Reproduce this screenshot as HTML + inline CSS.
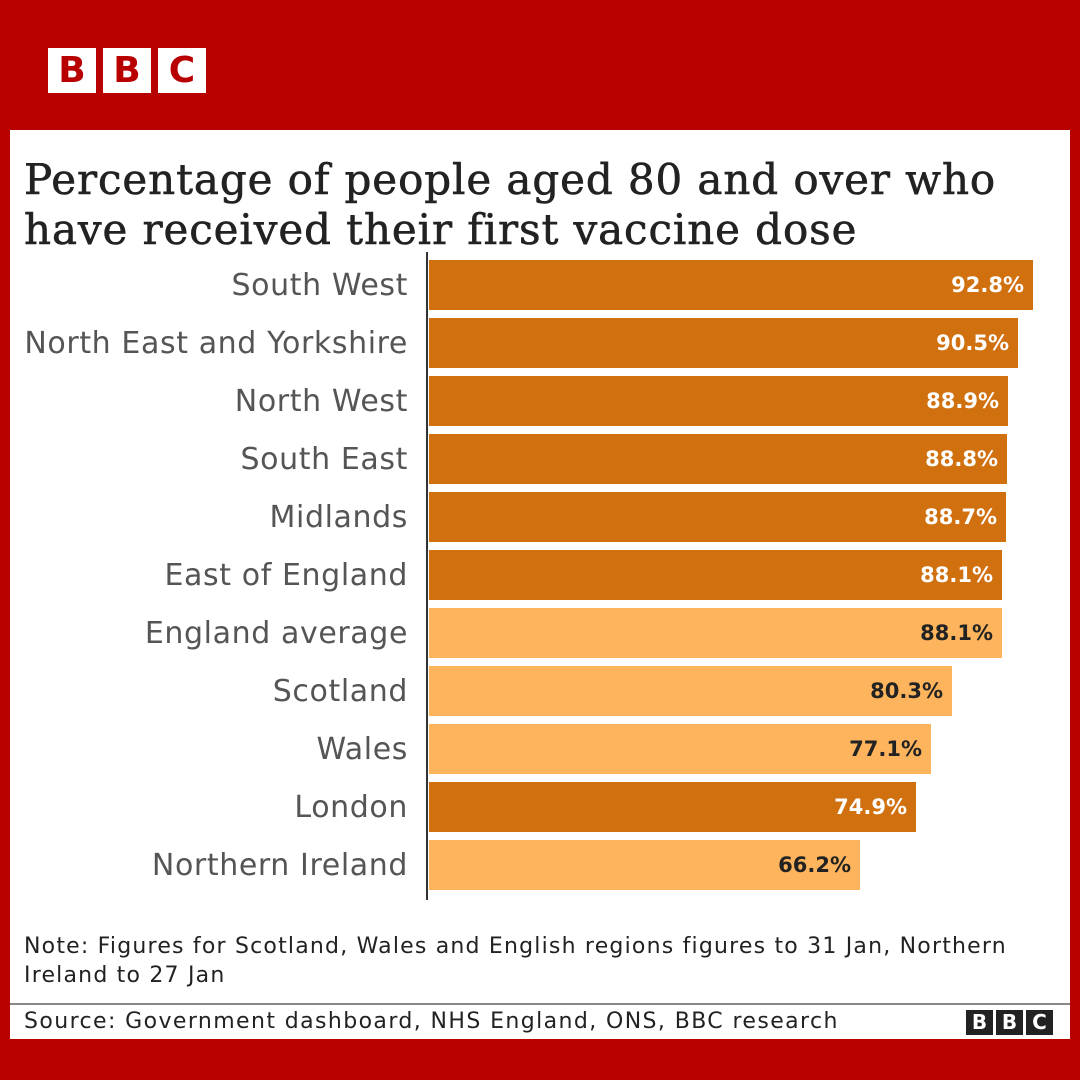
<!DOCTYPE html>
<html><head><meta charset="utf-8"><style>
body{margin:0;width:1080px;height:1080px;background:#b80000;position:relative;overflow:hidden;font-family:"DejaVu Sans",sans-serif}
.logo{position:absolute;display:flex;gap:7px}
.logo span{display:block;background:#fff;color:#b80000;font-weight:bold;text-align:center;font-family:"DejaVu Sans",sans-serif}
.panel{position:absolute;left:10px;top:130px;width:1060px;height:909px;background:#fff}
.title{position:absolute;left:24px;top:155px;font-family:"DejaVu Serif",serif;font-size:42px;line-height:50px;color:#222;white-space:nowrap;letter-spacing:0.9px;-webkit-text-stroke:0.6px #222}
.lab{position:absolute;right:672px;font-size:30px;color:#555;line-height:58px;white-space:nowrap;letter-spacing:0.6px}
.bar{position:absolute;left:429px;height:50px;box-sizing:border-box;text-align:right;padding-right:9px;font-weight:bold;font-size:21px;line-height:50px}
.d{background:#d1700f;color:#fff}.l{background:#fdb45c;color:#222}
.axis{position:absolute;left:426px;top:252px;width:2px;height:648px;background:#333}
.note{position:absolute;left:24px;top:932px;font-size:22px;line-height:29px;color:#222;width:1040px;white-space:nowrap;letter-spacing:1.2px}
.sep{position:absolute;left:10px;top:1003px;width:1060px;height:2px;background:#888}
.src{position:absolute;left:24px;top:1007px;font-size:22px;line-height:30px;color:#222;letter-spacing:1.4px}
</style></head><body>
<div class="logo" style="left:48px;top:48px"><span style="width:48px;height:45px;font-size:36px;line-height:45px">B</span><span style="width:48px;height:45px;font-size:36px;line-height:45px">B</span><span style="width:48px;height:45px;font-size:36px;line-height:45px">C</span></div>
<div class="panel"></div>
<div class="title">Percentage of people aged 80 and over who<br>have received their first vaccine dose</div>
<div class="axis"></div>
<div class="lab" style="top:257px">South West</div>
<div class="bar d" style="top:260px;width:604px">92.8%</div>
<div class="lab" style="top:315px">North East and Yorkshire</div>
<div class="bar d" style="top:318px;width:589px">90.5%</div>
<div class="lab" style="top:373px">North West</div>
<div class="bar d" style="top:376px;width:579px">88.9%</div>
<div class="lab" style="top:431px">South East</div>
<div class="bar d" style="top:434px;width:578px">88.8%</div>
<div class="lab" style="top:489px">Midlands</div>
<div class="bar d" style="top:492px;width:577px">88.7%</div>
<div class="lab" style="top:547px">East of England</div>
<div class="bar d" style="top:550px;width:573px">88.1%</div>
<div class="lab" style="top:605px">England average</div>
<div class="bar l" style="top:608px;width:573px">88.1%</div>
<div class="lab" style="top:663px">Scotland</div>
<div class="bar l" style="top:666px;width:523px">80.3%</div>
<div class="lab" style="top:721px">Wales</div>
<div class="bar l" style="top:724px;width:502px">77.1%</div>
<div class="lab" style="top:779px">London</div>
<div class="bar d" style="top:782px;width:487px">74.9%</div>
<div class="lab" style="top:837px">Northern Ireland</div>
<div class="bar l" style="top:840px;width:431px">66.2%</div>
<div class="note">Note: Figures for Scotland, Wales and English regions figures to 31 Jan, Northern<br>Ireland to 27 Jan</div>
<div class="sep"></div>
<div class="src">Source: Government dashboard, NHS England, ONS, BBC research</div>
<div class="logo" style="left:966px;top:1010px;gap:3px"><span style="width:27px;height:25px;font-size:20px;line-height:25px;background:#222;color:#fff">B</span><span style="width:27px;height:25px;font-size:20px;line-height:25px;background:#222;color:#fff">B</span><span style="width:27px;height:25px;font-size:20px;line-height:25px;background:#222;color:#fff">C</span></div>
</body></html>
